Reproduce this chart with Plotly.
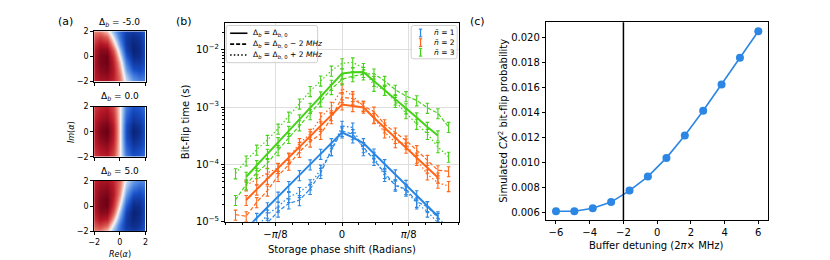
import plotly.graph_objects as go

# ---------------- panel (a): Wigner-like maps ----------------
WIGNER_X = [-2, -1.5, -1, -0.5, 0, 0.5, 1, 1.5, 2]
WIGNER_Y = [-2, -1.5, -1, -0.5, 0, 0.5, 1, 1.5, 2]
MAP_TITLES = ["-5.0", "0.0", "5.0"]

WIGNER_M5 = [
    [0.65, 0.75, 0.78, 0.65, 0.35, -0.10, -0.35, -0.45, -0.45],
    [0.70, 0.82, 0.86, 0.70, 0.30, -0.20, -0.50, -0.60, -0.55],
    [0.72, 0.88, 0.93, 0.72, 0.22, -0.35, -0.70, -0.75, -0.65],
    [0.74, 0.92, 0.98, 0.68, 0.10, -0.50, -0.85, -0.85, -0.72],
    [0.72, 0.93, 0.97, 0.60, -0.05, -0.65, -0.95, -0.92, -0.75],
    [0.68, 0.88, 0.88, 0.45, -0.22, -0.78, -1.00, -0.95, -0.75],
    [0.60, 0.75, 0.68, 0.20, -0.40, -0.85, -0.98, -0.92, -0.74],
    [0.45, 0.55, 0.40, -0.05, -0.55, -0.85, -0.93, -0.88, -0.70],
    [0.30, 0.30, 0.12, -0.25, -0.60, -0.80, -0.85, -0.80, -0.65],
]
WIGNER_0 = [
    [0.55, 0.65, 0.70, 0.50, 0.00, -0.50, -0.70, -0.65, -0.55],
    [0.60, 0.72, 0.78, 0.56, 0.00, -0.56, -0.78, -0.72, -0.60],
    [0.66, 0.80, 0.86, 0.63, 0.00, -0.63, -0.86, -0.80, -0.66],
    [0.70, 0.88, 0.95, 0.70, 0.00, -0.70, -0.95, -0.88, -0.70],
    [0.72, 0.92, 1.00, 0.72, 0.00, -0.72, -1.00, -0.92, -0.72],
    [0.70, 0.88, 0.95, 0.70, 0.00, -0.70, -0.95, -0.88, -0.70],
    [0.66, 0.80, 0.86, 0.63, 0.00, -0.63, -0.86, -0.80, -0.66],
    [0.60, 0.72, 0.78, 0.56, 0.00, -0.56, -0.78, -0.72, -0.60],
    [0.55, 0.65, 0.70, 0.50, 0.00, -0.50, -0.70, -0.65, -0.55],
]
WIGNER_P5 = [
    [0.30, 0.30, 0.12, -0.25, -0.60, -0.80, -0.85, -0.80, -0.65],
    [0.45, 0.55, 0.40, -0.05, -0.55, -0.85, -0.93, -0.88, -0.70],
    [0.60, 0.75, 0.68, 0.20, -0.40, -0.85, -0.98, -0.92, -0.74],
    [0.68, 0.88, 0.88, 0.45, -0.22, -0.78, -1.00, -0.95, -0.75],
    [0.72, 0.93, 0.97, 0.60, -0.05, -0.65, -0.95, -0.92, -0.75],
    [0.74, 0.92, 0.98, 0.68, 0.10, -0.50, -0.85, -0.85, -0.72],
    [0.72, 0.88, 0.93, 0.72, 0.22, -0.35, -0.70, -0.75, -0.65],
    [0.70, 0.82, 0.86, 0.70, 0.30, -0.20, -0.50, -0.60, -0.55],
    [0.65, 0.75, 0.78, 0.65, 0.35, -0.10, -0.35, -0.45, -0.45],
]
MAP_TICKS = [-2, 0, 2]

# ---------------- panel (b): bit-flip times (s) ----------------
PHASE = [-0.628, -0.565, -0.503, -0.440, -0.377, -0.314, -0.251, -0.188, -0.126, -0.063,
         0.0, 0.063, 0.126, 0.188, 0.251, 0.314, 0.377, 0.440, 0.503, 0.565, 0.628]

# nbar = 1
T1_NOM = [None, 7.6e-6, 1.17e-5, 1.79e-5, 2.74e-5, 4.2e-5, 6.5e-5, 1.0e-4, 1.53e-4, 2.35e-4,
          3.6e-4, 2.96e-4, 2.35e-4, 1.55e-4, 1.01e-4, 6.7e-5, 4.4e-5, 2.9e-5, 1.88e-5, 1.25e-5, None]
T1_MINUS = [3.6e-6, 4.7e-6, 7.0e-6, 9.6e-6, 1.51e-5, 2.09e-5, 2.38e-5, 3.74e-5, 7.1e-5, 1.77e-4,
            3.84e-4, 3.37e-4, 2.0e-4, 1.2e-4, 7.1e-5, 4.26e-5, 3.74e-5, 2.23e-5, 1.84e-5, 1.17e-5, 7.9e-6]
T1_PLUS = [3.6e-6, 5.4e-6, 7.9e-6, 1.33e-5, 1.84e-5, 2.71e-5, 3.29e-5, 4.5e-5, 8.1e-5, 1.77e-4,
           4.7e-4, 4.4e-4, 1.77e-4, 1.36e-4, 6.3e-5, 4.5e-5, 3.5e-5, 2.09e-5, 1.51e-5, 9.6e-6, 7.0e-6]
# nbar = 2
T2_NOM = [None, 2.4e-5, 3.65e-5, 5.6e-5, 8.6e-5, 1.31e-4, 2.0e-4, 3.1e-4, 4.7e-4, 7.2e-4,
          1.11e-3, 1.04e-3, 9.8e-4, 6.5e-4, 4.4e-4, 2.9e-4, 1.96e-4, 1.31e-4, 8.8e-5, 5.9e-5, None]
T2_MINUS = [1.33e-5, 1.25e-5, 2.2e-5, 3.5e-5, 6.3e-5, 9.9e-5, 1.66e-4, 2.5e-4, 3.4e-4, 6.4e-4,
            1.49e-3, 1.4e-3, 1.05e-3, 8.3e-4, 5.0e-4, 3.6e-4, 2.6e-4, 1.77e-4, 1.2e-4, 7.9e-5, 7.6e-5]
T2_PLUS = [None, 4.3e-5, 5.5e-5, 7.1e-5, 8.7e-5, 1.28e-4, 2.35e-4, 3.4e-4, 6.6e-4, 1.01e-3,
           2.12e-3, 1.55e-3, 1.05e-3, 6.4e-4, 3.6e-4, 2.44e-4, 2.3e-4, 1.2e-4, 6.7e-5, 4.8e-5, 4.2e-5]
# nbar = 3
T3_NOM = [None, 6.1e-5, 9.7e-5, 1.53e-4, 2.44e-4, 3.84e-4, 6.1e-4, 9.7e-4, 1.53e-3, 2.44e-3,
          3.84e-3, 4.05e-3, 4.1e-3, 2.85e-3, 1.99e-3, 1.36e-3, 9.5e-4, 6.6e-4, 4.5e-4, 3.2e-4, None]
T3_MINUS = [2.4e-5, 4.5e-5, 7.1e-5, 1.05e-4, 1.77e-4, 2.89e-4, 4.8e-4, 7.5e-4, 1.26e-3, 2.06e-3,
            3.04e-3, 3.46e-3, 3.7e-3, 3.84e-3, 2.85e-3, 2.0e-3, 1.55e-3, 1.31e-3, 9.7e-4, 7.8e-4, 4.5e-4]
T3_PLUS = [7.0e-5, 1.17e-4, 1.81e-4, 2.67e-4, 4.2e-4, 6.8e-4, 1.15e-3, 1.9e-3, 2.9e-3, 4.3e-3,
           5.8e-3, 6.0e-3, 4.8e-3, 2.35e-3, 2.0e-3, 1.23e-3, 7.8e-4, 5.1e-4, 3.4e-4, 2.0e-4, 1.36e-4]

NBAR_LABELS = ["<i>n̄</i> = 1", "<i>n̄</i> = 2", "<i>n̄</i> = 3"]
DETUNE_LABELS = ["Δ<sub><i>b</i></sub> = Δ<sub><i>b</i>, 0</sub>",
                 "Δ<sub><i>b</i></sub> = Δ<sub><i>b</i>, 0</sub> − 2 <i>MHz</i>",
                 "Δ<sub><i>b</i></sub> = Δ<sub><i>b</i>, 0</sub> + 2 <i>MHz</i>"]
PHASE_TICKS = [-0.3927, 0.0, 0.3927]
PHASE_TICK_TEXT = ["−<i>π</i>/8", "0", "<i>π</i>/8"]
PHASE_MINOR = [-0.6872, -0.5890, -0.4909, -0.3927, -0.2945, -0.1963, -0.0982, 0.0,
               0.0982, 0.1963, 0.2945, 0.3927, 0.4909, 0.5890, 0.6872]
TIME_TICKS = [1e-5, 1e-4, 1e-3, 1e-2]
TIME_TICK_TEXT = ["10<sup>−5</sup>", "10<sup>−4</sup>", "10<sup>−3</sup>", "10<sup>−2</sup>"]
TIME_MINOR = [m * d for d in (1e-5, 1e-4, 1e-3) for m in (2, 3, 4, 5, 6, 7, 8, 9)] + [2e-2]

# ---------------- panel (c): simulated CX^2 bit-flip probability ----------------
DETUNING = [-6.0, -4.91, -3.82, -2.73, -1.64, -0.55, 0.55, 1.64, 2.73, 3.82, 4.91, 6.0]
PROB = [0.00606, 0.00606, 0.0063, 0.0068, 0.00772, 0.00885, 0.01035, 0.01214,
        0.01413, 0.01625, 0.0184, 0.02052]
BUFFER_REF = -2.0
PROB_TICKS = [0.006, 0.008, 0.010, 0.012, 0.014, 0.016, 0.018, 0.020]

# ---------------- styling ----------------
FONT = "DejaVu Sans"
BLUE, ORANGE, GREEN = "#2b87e3", "#ff6619", "#47d11a"
NBAR_COLORS = [BLUE, ORANGE, GREEN]
CS = [[0.0, "rgb(10,35,120)"], [0.15, "rgb(25,80,200)"], [0.3, "rgb(90,145,230)"],
      [0.45, "rgb(205,222,245)"], [0.5, "rgb(247,247,247)"], [0.55, "rgb(246,205,195)"],
      [0.7, "rgb(222,95,85)"], [0.85, "rgb(185,25,40)"], [1.0, "rgb(105,0,20)"]]
W, H = 830, 260


def px(x):
    return x / W


def py(y):
    return 1 - y / H


fig = go.Figure()

# panel (a)
for i, z in enumerate([WIGNER_M5, WIGNER_0, WIGNER_P5]):
    s = "" if i == 0 else str(i + 1)
    fig.add_trace(go.Heatmap(x=WIGNER_X, y=WIGNER_Y, z=z, xaxis="x" + s, yaxis="y" + s,
                             colorscale=CS, zmin=-1, zmax=1, zsmooth="best",
                             showscale=False, hoverinfo="skip"))

# panel (b)
dash_styles = [("solid", 2.0), ("4px,2px", 1.2), ("1.5px,2.2px", 1.2)]
series = [(BLUE, [T1_NOM, T1_MINUS, T1_PLUS]),
          (ORANGE, [T2_NOM, T2_MINUS, T2_PLUS]),
          (GREEN, [T3_NOM, T3_MINUS, T3_PLUS])]
for color, curves in series:
    for vals, (dash, lw) in zip(curves, dash_styles):
        fig.add_trace(go.Scatter(
            x=PHASE, y=vals, mode="lines", xaxis="x4", yaxis="y4",
            line=dict(color=color, width=lw, dash=dash),
            error_y=dict(type="percent", value=20, color=color, thickness=1.1, width=1.8),
            showlegend=False, hoverinfo="skip"))

# panel (c)
fig.add_trace(go.Scatter(x=DETUNING, y=PROB, mode="lines+markers", xaxis="x5", yaxis="y5",
                         line=dict(color=BLUE, width=1.6),
                         marker=dict(color=BLUE, size=8), showlegend=False))
fig.add_shape(type="line", xref="x5", yref="y5 domain", x0=BUFFER_REF, x1=BUFFER_REF,
              y0=0, y1=1, line=dict(color="black", width=1.5))

# ---- hand-drawn legends for panel (b) (matplotlib-style compact boxes) ----
ann = []


def text(x, y, s, size, angle=0, xanchor="center"):
    ann.append(dict(x=px(x), y=py(y), xref="paper", yref="paper", text=s, showarrow=False,
                    font=dict(size=size, family=FONT, color="black"), textangle=angle,
                    xanchor=xanchor, yanchor="middle"))


def legend_box(x0, y0, x1, y1, r=2.5):
    path = (f"M {px(x0 + r)},{py(y0)} L {px(x1 - r)},{py(y0)} "
            f"Q {px(x1)},{py(y0)} {px(x1)},{py(y0 + r)} L {px(x1)},{py(y1 - r)} "
            f"Q {px(x1)},{py(y1)} {px(x1 - r)},{py(y1)} L {px(x0 + r)},{py(y1)} "
            f"Q {px(x0)},{py(y1)} {px(x0)},{py(y1 - r)} L {px(x0)},{py(y0 + r)} "
            f"Q {px(x0)},{py(y0)} {px(x0 + r)},{py(y0)} Z")
    fig.add_shape(type="path", xref="paper", yref="paper", path=path,
                  fillcolor="rgba(255,255,255,0.85)", line=dict(color="#cfcfcf", width=1))


legend_box(214.5, 14, 307, 52.5)
for row_y, label, (dash, lw) in zip([22, 33.3, 44.6], DETUNE_LABELS, dash_styles):
    fig.add_shape(type="line", xref="paper", yref="paper", x0=px(218.5), x1=px(236),
                  y0=py(row_y), y1=py(row_y), line=dict(color="black", width=1.6, dash=dash))
    text(240, row_y, label, 7.5, xanchor="left")

legend_box(401.5, 14, 448, 48.5)
for row_y, label, color in zip([21.7, 31.7, 41.7], NBAR_LABELS, NBAR_COLORS):
    fig.add_shape(type="line", xref="paper", yref="paper", x0=px(411), x1=px(411),
                  y0=py(row_y - 4), y1=py(row_y + 4), line=dict(color=color, width=1.3))
    for cap in (row_y - 4, row_y + 4):
        fig.add_shape(type="line", xref="paper", yref="paper", x0=px(409.3), x1=px(412.7),
                      y0=py(cap), y1=py(cap), line=dict(color=color, width=1.1))
    text(423, row_y, label, 7.5, xanchor="left")

frame = dict(showline=True, mirror=True, linecolor="black", linewidth=1,
             ticks="outside", ticklen=3, tickwidth=0.8, tickcolor="black",
             zeroline=False, showgrid=False)
map_ax = dict(frame, range=[-2, 2], tickvals=MAP_TICKS, tickfont=dict(size=8))
map_ys = [(20, 72), (98, 150), (175, 227)]
layout_axes = {}
for i, (t, b) in enumerate(map_ys):
    s = "" if i == 0 else str(i + 1)
    layout_axes["xaxis" + s] = dict(map_ax, domain=[px(81), px(133)], anchor="y" + s,
                                    showticklabels=(i == 2))
    layout_axes["yaxis" + s] = dict(map_ax, domain=[py(b), py(t)], anchor="x" + s)

layout_axes["xaxis4"] = dict(frame, domain=[px(213.3), px(450)], anchor="y4",
                             range=[-0.69, 0.69], tickvals=PHASE_TICKS, ticktext=PHASE_TICK_TEXT,
                             showgrid=True, gridcolor="#dedede", gridwidth=1,
                             tickfont=dict(size=10),
                             minor=dict(tickvals=PHASE_MINOR, ticks="outside", ticklen=2,
                                        tickcolor="black", showgrid=False))
layout_axes["yaxis4"] = dict(frame, domain=[py(217.3), py(11.7)], anchor="x4", type="log",
                             range=[-5, -1.54], tickvals=TIME_TICKS, ticktext=TIME_TICK_TEXT,
                             showgrid=True, gridcolor="#dedede", gridwidth=1,
                             tickfont=dict(size=10),
                             minor=dict(tickvals=TIME_MINOR, ticks="outside", ticklen=2,
                                        tickcolor="black", showgrid=False))
layout_axes["xaxis5"] = dict(frame, domain=[px(537.7), px(762.7)], anchor="y5",
                             range=[-6.6, 6.6], tickmode="linear", tick0=0, dtick=2,
                             tickfont=dict(size=10))
layout_axes["yaxis5"] = dict(frame, domain=[py(215.7), py(10.7)], anchor="x5",
                             range=[0.00534, 0.02124], tickvals=PROB_TICKS, tickformat=".3f",
                             tickfont=dict(size=10))

text(52, 10, "(a)", 11)
text(172, 10, "(b)", 11)
text(469, 10, "(c)", 11)
for yy, t in zip([11, 88, 165], MAP_TITLES):
    text(107, yy, "Δ<sub><i>b</i></sub> = " + t, 9)
text(58, 124, "<i>Im</i>(<i>α</i>)", 8, -90)
text(107, 251, "<i>Re</i>(<i>α</i>)", 8)
text(173, 114, "Bit-flip time (s)", 10, -90)
text(332, 246, "Storage phase shift (Radians)", 10)
text(494, 113, "Simulated <i>CX</i><sup>2</sup> bit-flip probability", 10, -90)
text(650, 242, "Buffer detuning (2<i>π</i>× MHz)", 10)

fig.update_layout(
    width=W, height=H, margin=dict(l=0, r=0, t=0, b=0),
    paper_bgcolor="white", plot_bgcolor="white",
    font=dict(family=FONT, size=10, color="black"),
    annotations=ann, showlegend=False,
    **layout_axes,
)

fig.write_html("out.html")
